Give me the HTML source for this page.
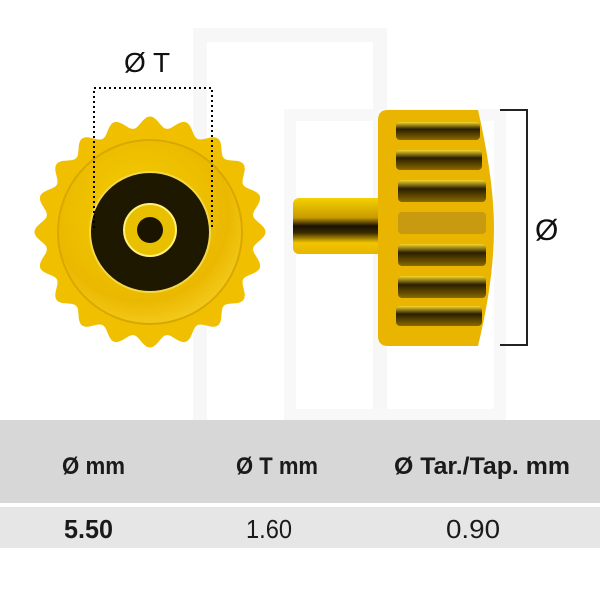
<!DOCTYPE html>
<html><head><meta charset="utf-8"><style>
html,body{margin:0;padding:0;background:#fff;width:600px;height:600px;overflow:hidden}
svg{display:block}
.t{font-family:"Liberation Sans Narrow","Liberation Sans",sans-serif}
</style></head><body>
<svg width="600" height="600" viewBox="0 0 600 600" xmlns="http://www.w3.org/2000/svg">
<defs>
<radialGradient id="g1" cx="0.45" cy="0.4" r="0.6"><stop offset="0" stop-color="#f5d000"/><stop offset="0.8" stop-color="#eab800"/><stop offset="1" stop-color="#f3c81a"/></radialGradient>
<linearGradient id="stem" x1="0" y1="0" x2="0" y2="1"><stop offset="0" stop-color="#f4d200"/><stop offset="0.35" stop-color="#c99a00"/><stop offset="0.5" stop-color="#1a1200"/><stop offset="0.62" stop-color="#3a2a00"/><stop offset="0.8" stop-color="#f0c400"/><stop offset="1" stop-color="#e8b400"/></linearGradient>
<linearGradient id="rib" x1="0" y1="0" x2="0" y2="1"><stop offset="0" stop-color="#f6d830"/><stop offset="0.4" stop-color="#2a1f00"/><stop offset="1" stop-color="#8a6a00"/></linearGradient>
</defs>
<rect x="200" y="35" width="180" height="420" fill="none" stroke="#f7f7f7" stroke-width="14"/>
<rect x="290" y="115" width="210" height="300" fill="none" stroke="#f8f8f8" stroke-width="12"/>
<rect x="0" y="420" width="600" height="83" fill="#d7d7d7"/>
<rect x="0" y="507" width="600" height="41" fill="#e6e6e6"/>
<text class="t" x="62" y="474" font-size="24" font-weight="bold" fill="#1a1a1a" textLength="63" lengthAdjust="spacingAndGlyphs">Ø mm</text>
<text class="t" x="236" y="474" font-size="24" font-weight="bold" fill="#1a1a1a" textLength="82" lengthAdjust="spacingAndGlyphs">Ø T mm</text>
<text class="t" x="394" y="474" font-size="24" font-weight="bold" fill="#1a1a1a" textLength="176" lengthAdjust="spacingAndGlyphs">Ø Tar./Tap. mm</text>
<text class="t" x="64" y="538" font-size="26" font-weight="bold" fill="#1a1a1a" textLength="49" lengthAdjust="spacingAndGlyphs">5.50</text>
<text class="t" x="246" y="538" font-size="26" fill="#1a1a1a" textLength="46" lengthAdjust="spacingAndGlyphs">1.60</text>
<text class="t" x="446" y="538" font-size="26" fill="#1a1a1a" textLength="54" lengthAdjust="spacingAndGlyphs">0.90</text>
<path id="gear" fill="#f0c000"/>
<circle cx="150" cy="232" r="92" fill="url(#g1)"/>
<circle cx="150" cy="232" r="92" fill="none" stroke="#d9a800" stroke-width="2"/>
<circle cx="150" cy="232" r="60" fill="#1e1800" stroke="#f4d84a" stroke-width="2"/>
<circle cx="150" cy="230" r="26" fill="#e8c000" stroke="#fff07a" stroke-width="2"/>
<circle cx="150" cy="230" r="13" fill="#1a1400"/>
<path d="M94 228 V88 H212 V228" fill="none" stroke="#000" stroke-width="2" stroke-dasharray="2 3"/>
<text class="t" x="124" y="72" font-size="28" fill="#111">Ø T</text>
<rect x="293" y="198" width="92" height="56" rx="6" fill="url(#stem)"/>
<path d="M388 110 H478 Q494 180 494 228 Q494 280 478 346 H388 Q378 346 378 336 V120 Q378 110 388 110 Z" fill="#eab500"/>
<g fill="url(#rib)">
<rect x="396" y="122" width="84" height="18" rx="4"/>
<rect x="396" y="150" width="86" height="20" rx="4"/>
<rect x="398" y="180" width="88" height="22" rx="4"/>
<rect x="398" y="212" width="88" height="22" rx="4" fill="#c89a10"/>
<rect x="398" y="244" width="88" height="22" rx="4"/>
<rect x="398" y="276" width="88" height="22" rx="4"/>
<rect x="396" y="306" width="86" height="20" rx="4"/>
</g>
<path d="M500 110 H527 V345 H500" fill="none" stroke="#222" stroke-width="2"/>
<text class="t" x="535" y="240" font-size="30" fill="#111">Ø</text>
</svg>
<script>
(function(){var cx=150,cy=232,n=20,d="";for(var i=0;i<=720;i++){var a=i/720*2*Math.PI;var r=110+5.5*Math.cos(n*a);var x=cx+r*Math.cos(a),y=cy+r*Math.sin(a);d+=(i?"L":"M")+x.toFixed(1)+" "+y.toFixed(1);}document.getElementById("gear").setAttribute("d",d+"Z");})();
</script>
</body></html>
